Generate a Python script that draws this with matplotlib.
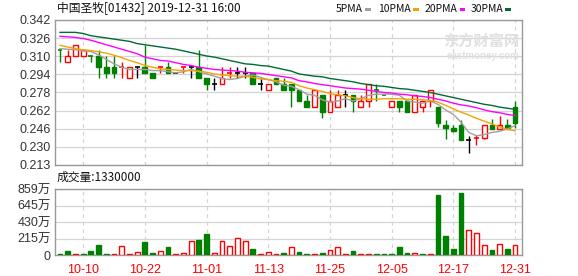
import numpy as np
import matplotlib
matplotlib.use('Agg')
import matplotlib.pyplot as plt
from matplotlib.patches import Rectangle

plt.rcParams['font.family'] = ['Liberation Sans', 'Noto Sans CJK SC']

# trading days shown (2019)
dates = ['10-04', '10-08', '10-09', '10-10', '10-11', '10-14', '10-15', '10-16', '10-17', '10-18',
         '10-21', '10-22', '10-23', '10-24', '10-25', '10-28', '10-29', '10-30', '10-31', '11-01',
         '11-04', '11-05', '11-06', '11-07', '11-08', '11-11', '11-12', '11-13', '11-14', '11-15',
         '11-18', '11-19', '11-20', '11-21', '11-22', '11-25', '11-26', '11-27', '11-28', '11-29',
         '12-02', '12-03', '12-04', '12-05', '12-06', '12-09', '12-10', '12-11', '12-12', '12-13',
         '12-16', '12-17', '12-18', '12-19', '12-20', '12-23', '12-24', '12-27', '12-30', '12-31']

opens = [0.315, 0.305, 0.310, 0.310, 0.310, 0.310, 0.300, 0.300, 0.300, 0.290,
         0.300, 0.300, 0.295, 0.300, 0.300, 0.295, 0.300, 0.300, 0.300, 0.290,
         0.285, 0.285, 0.295, 0.295, 0.295, 0.295, 0.285, 0.280, 0.290, 0.285,
         0.285, 0.280, 0.270, 0.265, 0.275, 0.260, 0.265, 0.275, 0.275, 0.265,
         0.270, 0.280, 0.275, 0.265, 0.270, 0.270, 0.260, 0.265, 0.270, 0.265,
         0.249, 0.246, 0.249, 0.235, 0.237, 0.237, 0.249, 0.245, 0.249, 0.265]
highs = [0.315, 0.315, 0.320, 0.315, 0.310, 0.315, 0.310, 0.310, 0.305, 0.300,
         0.300, 0.320, 0.295, 0.300, 0.305, 0.295, 0.300, 0.300, 0.315, 0.290,
         0.290, 0.300, 0.300, 0.300, 0.300, 0.295, 0.290, 0.285, 0.290, 0.290,
         0.285, 0.280, 0.275, 0.280, 0.275, 0.280, 0.280, 0.280, 0.275, 0.275,
         0.285, 0.285, 0.275, 0.270, 0.270, 0.270, 0.275, 0.270, 0.280, 0.265,
         0.253, 0.249, 0.253, 0.239, 0.240, 0.249, 0.254, 0.257, 0.254, 0.270]
lows = [0.305, 0.305, 0.310, 0.310, 0.305, 0.290, 0.290, 0.290, 0.290, 0.290,
        0.290, 0.295, 0.290, 0.295, 0.295, 0.295, 0.295, 0.290, 0.290, 0.280,
        0.280, 0.285, 0.290, 0.290, 0.290, 0.285, 0.280, 0.280, 0.285, 0.280,
        0.265, 0.270, 0.265, 0.265, 0.255, 0.260, 0.265, 0.265, 0.260, 0.265,
        0.265, 0.270, 0.275, 0.265, 0.260, 0.260, 0.260, 0.260, 0.265, 0.247,
        0.236, 0.242, 0.235, 0.224, 0.231, 0.236, 0.245, 0.245, 0.246, 0.246]
closes = [0.315, 0.310, 0.320, 0.315, 0.310, 0.300, 0.295, 0.295, 0.300, 0.300,
          0.300, 0.295, 0.290, 0.300, 0.295, 0.295, 0.300, 0.300, 0.290, 0.285,
          0.285, 0.290, 0.295, 0.295, 0.295, 0.285, 0.285, 0.285, 0.285, 0.280,
          0.280, 0.270, 0.265, 0.280, 0.260, 0.270, 0.275, 0.275, 0.270, 0.270,
          0.285, 0.280, 0.275, 0.270, 0.265, 0.260, 0.275, 0.270, 0.280, 0.250,
          0.246, 0.243, 0.235, 0.235, 0.237, 0.249, 0.245, 0.249, 0.246, 0.250]
close_before = 0.320  # close of the session before the first shown day

# volume, in 万 shares
volume = [12, 54, 15, 15, 54, 129, 15, 12, 125, 12,
          38, 167, 29, 54, 104, 12, 29, 188, 205, 280,
          29, 188, 125, 225, 188, 79, 12, 38, 12, 29,
          104, 42, 15, 15, 29, 67, 104, 12, 54, 12,
          12, 15, 15, 15, 104, 29, 29, 15, 12, 781,
          255, 83, 806, 330, 288, 129, 67, 142, 83, 133]

# moving averages
ma5 = [0.3165, 0.316, 0.3155, 0.3145, 0.314, 0.311, 0.307, 0.303, 0.300, 0.298,
       0.298, 0.298, 0.297, 0.297, 0.296, 0.295, 0.296, 0.298, 0.296, 0.294,
       0.292, 0.290, 0.289, 0.290, 0.292, 0.293, 0.291, 0.289, 0.287, 0.284,
       0.283, 0.280, 0.276, 0.275, 0.271, 0.269, 0.270, 0.272, 0.270, 0.272,
       0.275, 0.276, 0.276, 0.276, 0.275, 0.270, 0.269, 0.268, 0.270, 0.267,
       0.262, 0.258, 0.251, 0.242, 0.239, 0.240, 0.242, 0.243, 0.245, 0.248]
ma10 = [0.3195, 0.318, 0.3165, 0.3155, 0.3148, 0.3137, 0.3125, 0.3107, 0.3085, 0.306,
        0.304, 0.3015, 0.300, 0.2985, 0.298, 0.2975, 0.297, 0.297, 0.2965, 0.2955,
        0.294, 0.293, 0.2925, 0.292, 0.292, 0.291, 0.2895, 0.289, 0.288, 0.2875,
        0.2865, 0.2835, 0.2815, 0.280, 0.2785, 0.2765, 0.2755, 0.2745, 0.273, 0.272,
        0.2715, 0.2715, 0.272, 0.272, 0.272, 0.2715, 0.2715, 0.271, 0.2705, 0.269,
        0.266, 0.263, 0.260, 0.2575, 0.2545, 0.252, 0.2495, 0.247, 0.2445, 0.2435]
ma20 = [0.3275, 0.327, 0.3265, 0.3255, 0.324, 0.322, 0.320, 0.318, 0.316, 0.314,
        0.312, 0.309, 0.3075, 0.306, 0.3055, 0.304, 0.3025, 0.3015, 0.300, 0.299,
        0.298, 0.2975, 0.297, 0.2965, 0.2955, 0.295, 0.2945, 0.2935, 0.2925, 0.2915,
        0.2905, 0.288, 0.287, 0.2855, 0.2845, 0.2835, 0.2825, 0.2815, 0.281, 0.2805,
        0.2795, 0.2785, 0.2775, 0.277, 0.276, 0.2755, 0.2745, 0.274, 0.273, 0.2715,
        0.270, 0.268, 0.2665, 0.2655, 0.264, 0.262, 0.2605, 0.2595, 0.258, 0.257]
ma30 = [0.331, 0.331, 0.331, 0.330, 0.328, 0.327, 0.326, 0.325, 0.324, 0.323,
        0.321, 0.320, 0.319, 0.318, 0.317, 0.316, 0.3145, 0.313, 0.3115, 0.310,
        0.309, 0.3075, 0.306, 0.3045, 0.303, 0.3025, 0.3015, 0.301, 0.2995, 0.298,
        0.2965, 0.294, 0.293, 0.292, 0.2915, 0.290, 0.289, 0.288, 0.287, 0.2855,
        0.2845, 0.2835, 0.283, 0.282, 0.281, 0.2805, 0.2795, 0.2785, 0.2775, 0.276,
        0.2745, 0.273, 0.2715, 0.270, 0.2685, 0.267, 0.266, 0.2645, 0.2635, 0.2625]

price_labels = ['0.342', '0.326', '0.310', '0.294', '0.278', '0.262', '0.246', '0.230', '0.213']
vol_labels = ['0', '215万', '430万', '645万', '859万']
ma_names = ['5PMA', '10PMA', '20PMA', '30PMA']
label_every = 8
first_label = 3

RED = '#ff0000'
GREEN = '#008000'
BLACK = '#000000'
GRID = '#d4d4d4'
FRAME = '#999999'
MA_COLORS = ['#a0a0a0', '#f5a300', '#ff00ff', '#006b35']

fig = plt.figure(figsize=(5.78, 2.76), dpi=100)
W, H = 578, 276
ax = fig.add_axes([55 / W, 111 / H, 467 / W, 145 / H])
axv = fig.add_axes([55 / W, 20.7 / H, 467 / W, 66 / H])

n = len(closes)
x = np.arange(n)
prev = [close_before] + closes[:-1]
bw = 0.62

for i in x:
    o, h, l, c = opens[i], highs[i], lows[i], closes[i]
    if c > o:
        col = RED
    elif c < o:
        col = GREEN
    else:
        col = RED if c > prev[i] else (GREEN if c < prev[i] else BLACK)
    lo, hi = min(o, c), max(o, c)
    if hi > lo:
        face = 'white' if col == RED else col
        ax.add_patch(Rectangle((i - bw / 2, lo), bw, hi - lo, facecolor=face,
                               edgecolor=col, lw=1, zorder=3))
    else:
        ax.hlines(c, i - bw / 2, i + bw / 2, color=col, lw=1.2, zorder=3)
    if h > hi:
        ax.vlines(i, hi, h, color=col, lw=1, zorder=2)
    if l < lo:
        ax.vlines(i, l, lo, color=col, lw=1, zorder=2)

    # volume bar colour follows the close against the previous close
    vcol = RED if c >= prev[i] else GREEN
    vface = 'white' if vcol == RED else vcol
    axv.add_patch(Rectangle((i - bw / 2, 0), bw, volume[i], facecolor=vface,
                            edgecolor=vcol, lw=1, zorder=3))

for ma, col in zip([ma5, ma10, ma20, ma30], MA_COLORS):
    ax.plot(x, ma, color=col, lw=1, zorder=4)

tick_idx = list(range(first_label, n, label_every))
for a in (ax, axv):
    a.set_xlim(-0.65, 59.9)
    a.set_xticks(tick_idx)
    a.tick_params(length=0, labelsize=9, colors='#333333', pad=3)
    for s in a.spines.values():
        s.set_color(FRAME)
        s.set_linewidth(1)
    a.grid(axis='y', color=GRID, lw=0.9, ls='-', zorder=0)
    a.grid(axis='x', color=GRID, lw=0.9, ls=(0, (3, 3)), zorder=0)
    a.set_axisbelow(True)

ax.set_ylim(0.213, 0.342)
ax.set_yticks(np.linspace(0.342, 0.213, len(price_labels)))
ax.set_yticklabels(price_labels)
ax.set_xticklabels([])

axv.set_ylim(0, 859)
axv.set_yticks(np.linspace(0, 859, len(vol_labels)))
axv.set_yticklabels(vol_labels)
axv.set_xticklabels([dates[i] for i in tick_idx], color=RED)
axv.tick_params(axis='x', pad=6)

# watermark
ax.text(0.995, 0.86, '东方财富网', transform=ax.transAxes, ha='right', va='center',
        fontsize=11, fontweight='bold', color='#e0e0e0', family='Noto Sans CJK SC', zorder=1)
ax.text(0.995, 0.75, 'eastmoney.com', transform=ax.transAxes, ha='right', va='center',
        fontsize=7, fontweight='bold', color='#e0e0e0', zorder=1)

fig.text(57 / W, 1 - 9 / H, '中国圣牧[01432] 2019-12-31 16:00', ha='left', va='center',
         fontsize=8.5, family=['Noto Sans CJK SC'], color='#111111')
fig.text(57 / W, 1 - 177 / H, '成交量:1330000', ha='left', va='center',
         fontsize=8.5, family=['Noto Sans CJK SC'], color='#111111')

# legend: name followed by a short coloured dash
marker_x = [365, 413, 459.5, 505]
for name, col, mx in zip(ma_names, MA_COLORS, marker_x):
    fig.text((mx - 2) / W, 1 - 9 / H, name, ha='right', va='center', fontsize=7.5,
             family=['Noto Sans CJK SC'], color='#111111')
    fig.patches.append(Rectangle((mx / W, 1 - 11 / H), 5.5 / W, 2.5 / H,
                                 transform=fig.transFigure, facecolor=col, edgecolor='none'))

fig.savefig('out.png', dpi=100)
